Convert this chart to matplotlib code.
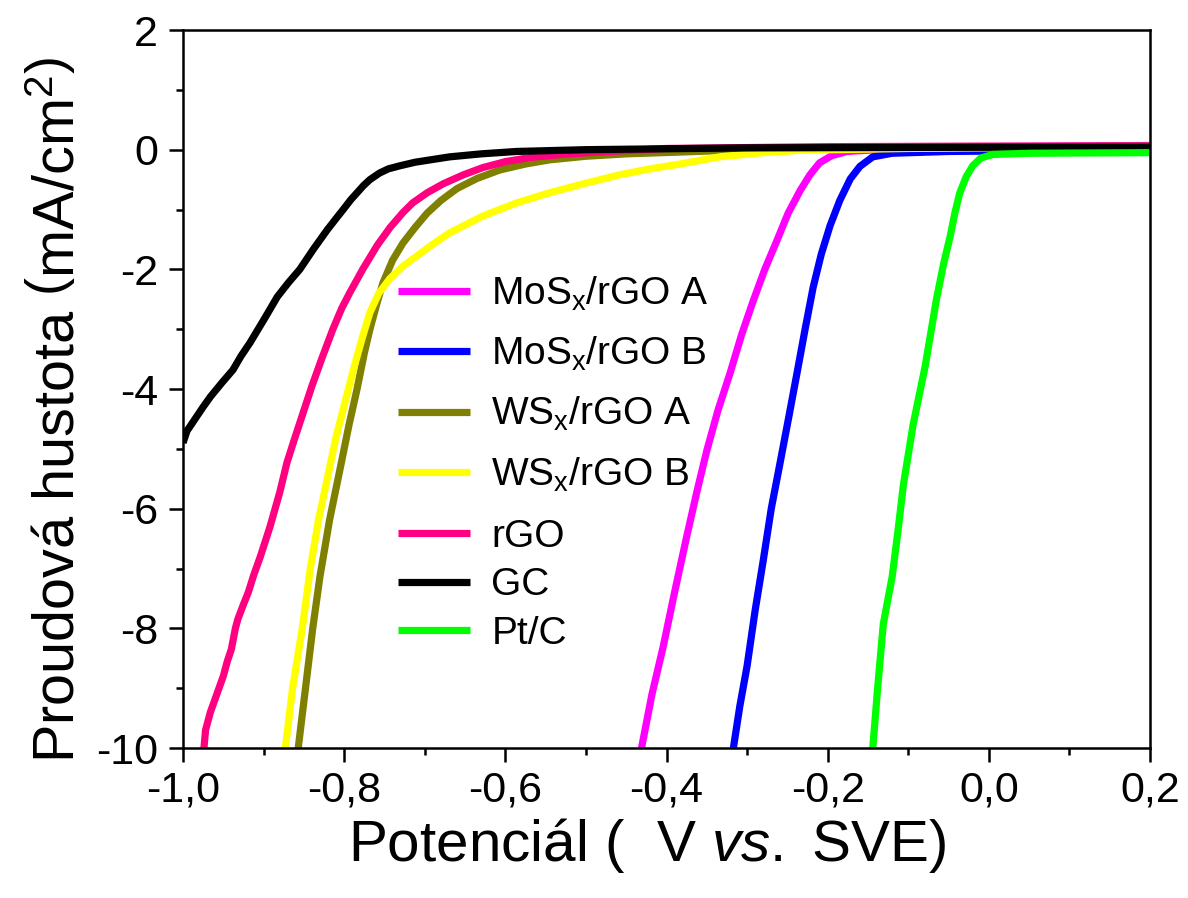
import matplotlib
matplotlib.use("Agg")
import matplotlib.pyplot as plt
from matplotlib.ticker import MultipleLocator, FuncFormatter

plt.rcParams['font.family'] = ['Liberation Sans', 'DejaVu Sans']
plt.rcParams['mathtext.fontset'] = 'custom'
plt.rcParams['mathtext.rm'] = 'Liberation Sans'
plt.rcParams['mathtext.it'] = 'Liberation Sans:italic'
plt.rcParams['mathtext.bf'] = 'Liberation Sans:bold'
plt.rcParams['axes.unicode_minus'] = False

# Polarisation curves: potential (V vs. SVE) and current density (mA/cm^2)
mos_a_x = [-0.431, -0.418, -0.404, -0.390, -0.375, -0.362, -0.350, -0.336, -0.321, -0.307, -0.293,
           -0.278, -0.263, -0.249, -0.234, -0.222, -0.210, -0.195, -0.176, -0.1, 0.0, 0.2]
mos_a_y = [-10.0, -9.1, -8.3, -7.4, -6.47, -5.7, -5.03, -4.35, -3.73, -3.1, -2.55,
           -2.0, -1.52, -1.06, -0.68, -0.42, -0.22, -0.1, -0.03, 0.03, 0.05, 0.07]

mos_b_x = [-0.317, -0.309, -0.300, -0.290, -0.280, -0.270, -0.259, -0.248, -0.238, -0.228, -0.218,
           -0.208, -0.197, -0.185, -0.172, -0.160, -0.144, -0.12, -0.05, 0.2]
mos_b_y = [-10.0, -9.3, -8.63, -7.7, -6.87, -6.0, -5.23, -4.45, -3.73, -3.0, -2.3,
           -1.75, -1.27, -0.85, -0.49, -0.28, -0.12, -0.06, -0.03, 0.0]

ws_a_x = [-0.857, -0.848, -0.839, -0.830, -0.818, -0.805, -0.794, -0.784, -0.775, -0.768, -0.760,
          -0.752, -0.740, -0.727, -0.712, -0.697, -0.680, -0.660, -0.635, -0.607, -0.575, -0.545,
          -0.50, -0.45, -0.383, -0.3, -0.1, 0.2]
ws_a_y = [-10.0, -9.0, -8.0, -7.13, -6.18, -5.33, -4.6, -4.0, -3.4, -3.0, -2.6,
          -2.23, -1.85, -1.56, -1.3, -1.06, -0.85, -0.65, -0.48, -0.34, -0.24, -0.17,
          -0.11, -0.07, -0.04, 0.0, 0.04, 0.06]

ws_b_x = [-0.873, -0.864, -0.852, -0.842, -0.832, -0.821, -0.810, -0.797, -0.787, -0.777, -0.768,
          -0.757, -0.743, -0.727, -0.710, -0.690, -0.669, -0.628, -0.586, -0.545, -0.50, -0.458,
          -0.42, -0.383, -0.334, -0.28, -0.234, -0.1, 0.2]
ws_b_y = [-10.0, -9.0, -8.0, -7.0, -6.2, -5.5, -4.8, -4.12, -3.6, -3.12, -2.72,
          -2.4, -2.15, -1.95, -1.78, -1.58, -1.39, -1.11, -0.89, -0.72, -0.56, -0.42,
          -0.32, -0.24, -0.12, -0.05, -0.01, 0.02, 0.05]

rgo_x = [-0.974, -0.972, -0.966, -0.958, -0.950, -0.945, -0.940, -0.935, -0.932, -0.925, -0.919,
         -0.912, -0.904, -0.892, -0.880, -0.871, -0.862, -0.851, -0.840, -0.828, -0.814, -0.803,
         -0.793, -0.777, -0.759, -0.743, -0.727, -0.715, -0.697, -0.677, -0.652, -0.628, -0.600,
         -0.569, -0.53, -0.486, -0.4, -0.2, 0.0, 0.2]
rgo_y = [-10.0, -9.7, -9.4, -9.1, -8.8, -8.55, -8.35, -8.0, -7.85, -7.6, -7.4,
         -7.1, -6.8, -6.3, -5.73, -5.23, -4.85, -4.4, -3.95, -3.5, -3.0, -2.65,
         -2.39, -2.0, -1.6, -1.3, -1.05, -0.89, -0.72, -0.57, -0.42, -0.3, -0.2,
         -0.13, -0.08, -0.04, 0.02, 0.05, 0.06, 0.06]

gc_x = [-1.0, -0.995, -0.985, -0.975, -0.966, -0.952, -0.938, -0.928, -0.917, -0.900, -0.883,
        -0.869, -0.855, -0.838, -0.821, -0.810, -0.800, -0.792, -0.784, -0.776, -0.768, -0.756,
        -0.745, -0.731, -0.712, -0.693, -0.669, -0.630, -0.586, -0.5, -0.3, 0.0, 0.2]
gc_y = [-4.9, -4.7, -4.5, -4.3, -4.13, -3.9, -3.68, -3.45, -3.23, -2.85, -2.46,
        -2.22, -2.0, -1.66, -1.34, -1.15, -0.98, -0.84, -0.72, -0.6, -0.50, -0.39,
        -0.32, -0.27, -0.21, -0.17, -0.12, -0.07, -0.03, 0.0, 0.03, 0.04, 0.04]

ptc_x = [-0.144, -0.138, -0.131, -0.120, -0.113, -0.106, -0.094, -0.079, -0.065, -0.056, -0.048,
         -0.042, -0.036, -0.028, -0.020, -0.010, 0.005, 0.05, 0.2]
ptc_y = [-10.0, -9.0, -7.93, -7.14, -6.4, -5.6, -4.6, -3.62, -2.5, -1.9, -1.45,
         -1.05, -0.72, -0.45, -0.27, -0.14, -0.08, -0.06, -0.05]

labels = ['MoS$_\\mathrm{x}$/rGO A', 'MoS$_\\mathrm{x}$/rGO B', 'WS$_\\mathrm{x}$/rGO A',
          'WS$_\\mathrm{x}$/rGO B', 'rGO', 'GC', 'Pt/C']
colors = ['#FF00FF', '#0000FF', '#808000', '#FFFF00', '#FF0080', '#000000', '#00FF00']
xs_all = [mos_a_x, mos_b_x, ws_a_x, ws_b_x, rgo_x, gc_x, ptc_x]
ys_all = [mos_a_y, mos_b_y, ws_a_y, ws_b_y, rgo_y, gc_y, ptc_y]

fig = plt.figure(figsize=(11.88, 8.98), dpi=100)
ax = fig.add_axes([183 / 1188, 150 / 898, 967 / 1188, 718 / 898])

lines = []
for label, xs, ys, color in zip(labels, xs_all, ys_all, colors):
    ln, = ax.plot(xs, ys, color=color, lw=5.2, label=label,
                  solid_joinstyle='round', solid_capstyle='butt')
    lines.append(ln)

ax.set_xlim(-1.0, 0.2)
ax.set_ylim(-10, 2)

ax.xaxis.set_major_locator(MultipleLocator(0.2))
ax.xaxis.set_minor_locator(MultipleLocator(0.1))
ax.yaxis.set_major_locator(MultipleLocator(2))
ax.yaxis.set_minor_locator(MultipleLocator(1))


def fmt_x(v, pos):
    s = f"{v:.1f}".replace('.', ',')
    return '0,0' if s == '-0,0' else s


def fmt_y(v, pos):
    s = f"{v:.0f}"
    return '0' if s == '-0' else s


ax.xaxis.set_major_formatter(FuncFormatter(fmt_x))
ax.yaxis.set_major_formatter(FuncFormatter(fmt_y))

ax.tick_params(which='major', direction='out', length=10, width=1.8, labelsize=31)
ax.tick_params(axis='x', which='major', pad=6)
ax.tick_params(axis='y', which='major', pad=8)
ax.tick_params(which='minor', direction='out', length=5, width=1.8)
ax.tick_params(top=False, right=False)
for sp in ax.spines.values():
    sp.set_linewidth(1.8)

ax.set_xlabel('Potenciál (  V $\\mathit{vs.}$ SVE)', fontsize=42)
ax.xaxis.set_label_coords(0.48, -0.095)
ax.set_ylabel('Proudová hustota $\\left(\\mathrm{mA/cm^{2}}\\right)$', fontsize=41.5)
ax.yaxis.set_label_coords(-0.099, 0.471)

legend_kw = dict(loc='upper left', frameon=False, fontsize=28, handlelength=1.85,
                 handletextpad=0.55, borderpad=0, borderaxespad=0)
leg1 = ax.legend(lines[:4], labels[:4], bbox_to_anchor=(215 / 967, (748 - 275) / 718),
                 labelspacing=0.56, **legend_kw)
ax.add_artist(leg1)
leg2 = ax.legend(lines[4:], labels[4:], bbox_to_anchor=(215 / 967, (748 - 519) / 718),
                 labelspacing=0.32, **legend_kw)
for lg in (leg1, leg2):
    for h in lg.get_lines():
        h.set_linewidth(5.2)

fig.savefig('out.png', dpi=100)
